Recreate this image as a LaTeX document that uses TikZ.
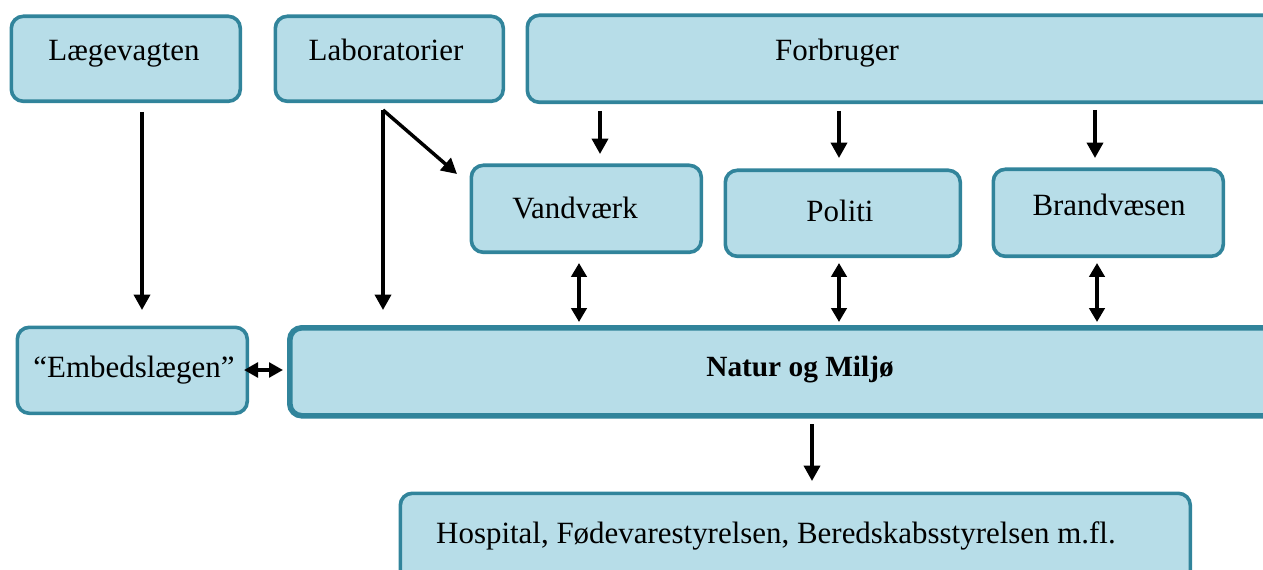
\documentclass[tikz,border=0pt]{standalone}
\usepackage{fontspec}
\setmainfont{Liberation Serif}
\usetikzlibrary{arrows.meta}
\definecolor{bordercol}{HTML}{31849B}
\definecolor{fillcol}{HTML}{B7DDE8}
\tikzset{
  box/.style={draw=bordercol, fill=fillcol, line width=2.7pt, rounded corners=9pt, rectangle, inner sep=0pt},
  thickbox/.style={box, line width=4.2pt},
  lbl/.style={anchor=base, inner sep=0pt, font=\fontsize{23.2}{27}\selectfont},
  arr/.style={line width=2.6pt, -{Triangle[length=11.5pt,width=12pt]}},
  darr/.style={line width=2.6pt, {Triangle[length=10.5pt,width=11.5pt]}-{Triangle[length=10.5pt,width=11.5pt]}},
  sarr/.style={line width=2.6pt, {Triangle[length=10.5pt,width=11pt]}-{Triangle[length=10.5pt,width=11pt]}}
}
\newcommand{\boxat}[6]{% name, style, x1, y1, x2, y2 (px, outer)
  \node[#2, anchor=north west, minimum width={(#5-#3-3)*0.75pt}, minimum height={(#6-#4-3)*0.75pt}] (#1) at (#3+1.5,#4+1.5) {};}
\begin{document}
\begin{tikzpicture}[x=0.75pt, y=-0.75pt]
\useasboundingbox (0,0) rectangle (1263,570);
% boxes
\boxat{laege}{box}{8}{13}{240}{101}
\boxat{lab}{box}{272}{13}{503}{101}
\boxat{forb}{box}{524}{12}{1330}{102}
\boxat{vand}{box}{468}{162}{701}{252}
\boxat{poli}{box}{722}{167}{960}{256}
\boxat{brand}{box}{990}{166}{1223}{256}
\boxat{embed}{box}{14}{324}{247}{413}
\node[thickbox, anchor=north west, minimum width={(1330-285-4)*0.75pt}, minimum height={(415-323-4)*0.75pt}] (natur) at (287,325) {};
\boxat{hosp}{box}{397}{490}{1190}{620}
% texts
\node[lbl] (laegeT) at (124,61) {Lægevagten};
\node[lbl] (labT) at (386,61) {Laboratorier};
\node[lbl] (forbT) at (837,61) {Forbruger};
\node[lbl] (vandT) at (575,219) {Vandværk};
\node[lbl] (poliT) at (840,222) {Politi};
\node[lbl] (brandT) at (1109,216) {Brandvæsen};
\node[lbl] (embedT) at (134,377) {“Embedslægen”};
\node[lbl, font=\fontsize{22}{26}\selectfont\bfseries] (naturT) at (800,376) {Natur og Miljø};
\node[lbl] (hospT) at (776,543) {Hospital, Fødevarestyrelsen, Beredskabsstyrelsen m.fl.};
% connector coordinates
\coordinate (a1s) at (142,112); \coordinate (a1e) at (142,310);
\coordinate (labs) at (383,110); \coordinate (labe) at (383,310);
\coordinate (labd) at (457,174);
\coordinate (f1s) at (600,111); \coordinate (f1e) at (600,154);
\coordinate (f2s) at (839,111); \coordinate (f2e) at (839,158);
\coordinate (f3s) at (1095,110); \coordinate (f3e) at (1095,158);
\coordinate (d1s) at (579,263); \coordinate (d1e) at (579,322);
\coordinate (d2s) at (839,263); \coordinate (d2e) at (839,322);
\coordinate (d3s) at (1097,263); \coordinate (d3e) at (1097,322);
\coordinate (es) at (244,370); \coordinate (ee) at (283,370);
\coordinate (ns) at (812,424); \coordinate (ne) at (812,481);
% connectors
\draw[arr] (a1s) -- (a1e);
\draw[arr] (labs) -- (labe);
\draw[arr] (labs) -- (labd);
\draw[arr] (f1s) -- (f1e);
\draw[arr] (f2s) -- (f2e);
\draw[arr] (f3s) -- (f3e);
\draw[darr] (d1s) -- (d1e);
\draw[darr] (d2s) -- (d2e);
\draw[darr] (d3s) -- (d3e);
\draw[sarr] (es) -- (ee);
\draw[arr] (ns) -- (ne);
\end{tikzpicture}
\end{document}
